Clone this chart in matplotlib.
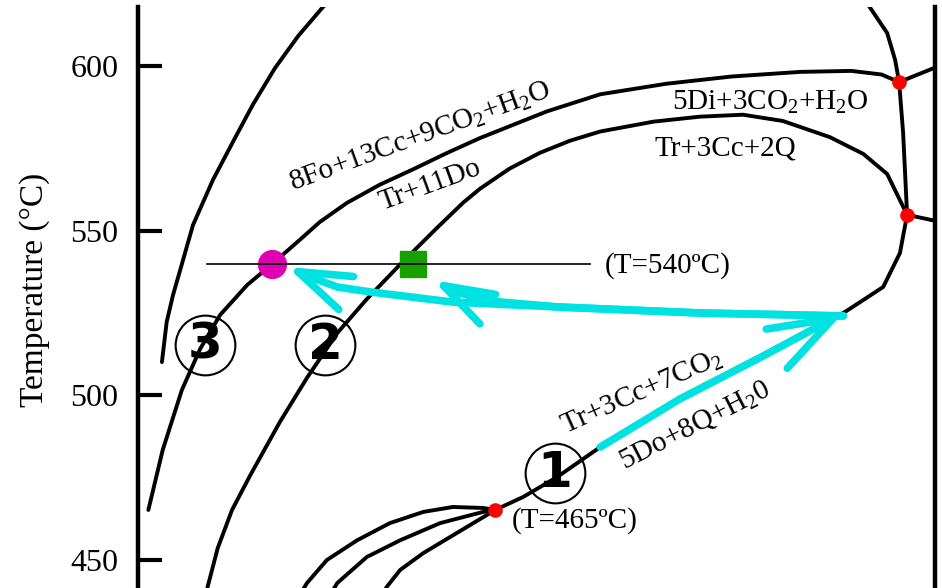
import matplotlib
matplotlib.use('Agg')
import matplotlib.pyplot as plt
from matplotlib.patches import FancyArrowPatch
from matplotlib.path import Path

plt.rcParams['font.family'] = ['Liberation Serif', 'DejaVu Serif']
plt.rcParams['mathtext.fontset'] = 'custom'
plt.rcParams['mathtext.rm'] = 'Liberation Serif'
plt.rcParams['mathtext.it'] = 'Liberation Serif:italic'

# composition (0 = left axis, 1 = right axis) vs temperature in degC
curve_a_x = [0.030, 0.036, 0.044, 0.053, 0.069, 0.094, 0.119, 0.144, 0.172, 0.201, 0.231, 0.247]
curve_a_t = [510.1, 522.3, 530.5, 538.1, 551.7, 565.4, 576.9, 588.2, 599.4, 609.1, 617.6, 621.6]

# 8Fo+13Cc+9CO2+H2O = Tr+11Do ... 5Di+3CO2+H2O
curve_b_x = [0.013, 0.031, 0.055, 0.078, 0.103, 0.137, 0.169, 0.203, 0.228, 0.262, 0.303,
             0.345, 0.387, 0.429, 0.513, 0.580, 0.663, 0.745, 0.831, 0.895, 0.933, 0.955]
curve_b_t = [465.2, 483.4, 501.6, 514.1, 524.4, 533.5, 540.0, 547.2, 552.6, 558.4, 563.9,
             568.6, 573.5, 578.1, 586.2, 591.4, 594.6, 596.8, 598.2, 598.5, 597.4, 595.1]

# Tr+11Do ... Tr+3Cc+2Q
curve_c_x = [0.087, 0.100, 0.118, 0.141, 0.178, 0.212, 0.250, 0.287, 0.330, 0.375,
             0.408, 0.429, 0.466, 0.504, 0.542, 0.580, 0.647, 0.705, 0.759, 0.809, 0.868,
             0.910, 0.940, 0.965]
curve_c_t = [441.5, 453.6, 465.2, 475.8, 491.9, 505.3, 518.9, 529.2, 540.0, 550.8,
             558.5, 562.7, 568.8, 573.6, 577.3, 580.1, 583.1, 584.6, 585.2, 583.3, 578.4,
             573.3, 567.2, 554.8]

# Tr+3Cc+7CO2 = 5Do+8Q+H2O and its continuation
curve_d_x = [0.908, 0.918, 0.940, 0.950, 0.955, 0.960, 0.965, 0.956, 0.935, 0.906,
             0.885, 0.784, 0.680, 0.580, 0.526, 0.483, 0.448]
curve_d_t = [621.6, 617.9, 610.0, 601.8, 595.1, 579.7, 554.8, 543.2, 532.9, 528.3,
             525.0, 511.9, 498.9, 484.3, 475.2, 469.1, 465.2]

edge_top_x = [0.955, 1.0]
edge_top_t = [595.1, 599.5]
edge_mid_x = [0.965, 1.0]
edge_mid_t = [554.8, 553.0]

lens_up_x = [0.448, 0.433, 0.395, 0.358, 0.316, 0.275, 0.237, 0.212, 0.203]
lens_up_t = [465.2, 465.8, 466.1, 464.6, 461.2, 456.0, 450.0, 443.0, 439.4]
lens_mid_x = [0.448, 0.433, 0.379, 0.329, 0.287, 0.250, 0.241]
lens_mid_t = [465.2, 464.6, 461.2, 456.0, 450.9, 443.0, 439.4]
lens_low_x = [0.448, 0.438, 0.400, 0.358, 0.329, 0.312, 0.307]
lens_low_t = [465.2, 463.7, 458.2, 452.1, 447.0, 441.8, 439.4]

iso_x = [0.087, 0.567]
iso_t = [540, 540]

inv_x = [0.955, 0.965, 0.448]
inv_t = [595.1, 554.8, 465.2]

# path arrows
path1_x = [0.580, 0.680, 0.784, 0.885]
path1_t = [484.3, 498.9, 511.9, 525.0]
path2_x = [0.885, 0.705, 0.529, 0.442, 0.398, 0.370]
path2_t = [524.1, 525.0, 526.8, 528.6, 531.4, 535.0]
path3_x = [0.885, 0.705, 0.529, 0.395, 0.291, 0.250, 0.215, 0.187]
path3_t = [524.1, 525.0, 526.8, 528.3, 531.4, 532.9, 536.0, 539.0]

labels = ['8Fo+13Cc+9CO$_2$+H$_2$O', 'Tr+11Do', '5Di+3CO$_2$+H$_2$O', 'Tr+3Cc+2Q',
          'Tr+3Cc+7CO$_2$', '5Do+8Q+H$_2$0', '(T=465ºC)']
label_x = [0.354, 0.366, 0.793, 0.737, 0.632, 0.699, 0.548]
label_t = [578.4, 563.9, 588.8, 574.8, 501.0, 491.0, 462.1]
label_rot = [20, 20, 0, 0, 24, 27, 0]

steps = ['3', '2', '1']
step_x = [0.084, 0.235, 0.523]
step_t = [515.3, 515.3, 476.4]

fig = plt.figure(figsize=(9.42, 5.88), dpi=100)
ax = fig.add_axes([138 / 942, 0, 797 / 942, 581 / 588])
ax.set_xlim(0, 1)
ax.set_ylim(441.5, 617.9)

lw = 2.8
for xs, ts in [(curve_a_x, curve_a_t), (curve_b_x, curve_b_t), (curve_c_x, curve_c_t),
               (curve_d_x, curve_d_t), (edge_top_x, edge_top_t), (edge_mid_x, edge_mid_t),
               (lens_up_x, lens_up_t), (lens_mid_x, lens_mid_t), (lens_low_x, lens_low_t)]:
    ax.plot(xs, ts, color='black', lw=lw, solid_capstyle='round', solid_joinstyle='round', zorder=2)

cyan = '#00e2e2'
for xs, ts, hl, hw in [(path1_x, path1_t, 46, 16), (path2_x, path2_t, 36, 12),
                       (path3_x, path3_t, 38, 13)]:
    arr = FancyArrowPatch(path=Path(list(zip(xs, ts))),
                          arrowstyle=f'->,head_length={hl},head_width={hw}',
                          mutation_scale=1, color=cyan, lw=5.5,
                          transform=ax.transData, zorder=3)
    arr.set_joinstyle('round')
    arr.set_capstyle('round')
    ax.add_patch(arr)

ax.plot(inv_x, inv_t, 'o', color='#ff0000', ms=9.5, zorder=4)
ax.plot(0.168, 540, 'o', color='#e000b4', ms=20, zorder=4)
ax.plot(0.345, 540, 's', color='#17a000', ms=19, zorder=4)
ax.plot(iso_x, iso_t, color='black', lw=1.2, zorder=5)
ax.text(0.586, 539.3, '(T=540ºC)', fontsize=21, ha='left', va='center')

for s, x, t, r in zip(labels, label_x, label_t, label_rot):
    ax.text(x, t, s, fontsize=21, rotation=r, rotation_mode='anchor',
            ha='center', va='center', zorder=6)

for s, x, t in zip(steps, step_x, step_t):
    ax.plot(x, t, 'o', ms=43, mfc='none', mec='black', mew=1.5, zorder=6)
    ax.text(x, t, s, fontsize=36, family='DejaVu Sans', weight='bold',
            ha='center', va='center', zorder=6)

ax.spines['top'].set_visible(False)
ax.spines['bottom'].set_visible(False)
ax.spines['left'].set_linewidth(3.2)
ax.spines['right'].set_linewidth(3.2)
ax.set_xticks([])
ax.set_yticks([450, 500, 550, 600])
ax.tick_params(axis='y', direction='in', length=17, width=3, labelsize=23, pad=14)
fig.text(35 / 942, 1 - 290 / 588, 'Temperature (°C)', rotation=90, fontsize=24,
         ha='center', va='center')

fig.savefig('out.png', dpi=100)
